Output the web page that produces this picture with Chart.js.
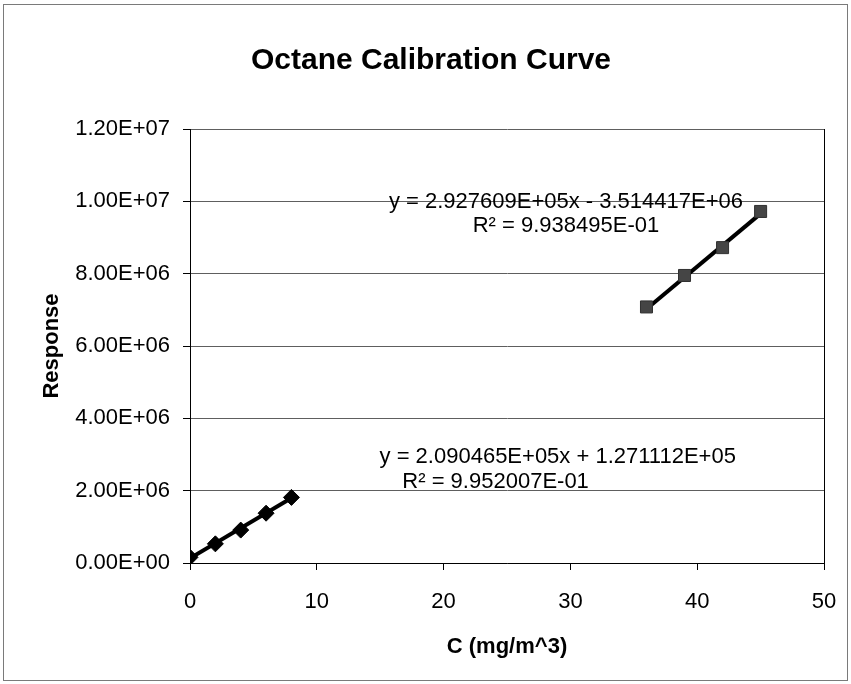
<!DOCTYPE html>
<html>
<head>
<meta charset="utf-8">
<title>Octane Calibration Curve</title>
<script src="https://cdn.jsdelivr.net/npm/chart.js@4.4.1/dist/chart.umd.min.js"></script>
<style>
    body { margin: 0; background: #fff; }
    #wrap { width: 851px; height: 684px; }
</style>
</head>
<body>
<div id="wrap"><canvas id="calib" width="851" height="684"></canvas></div>
<script>
// concentrations (mg/m^3) and detector response
const lowConc = [0, 2, 4, 6, 8];
const lowResp = [158000, 530000, 910000, 1377000, 1814000];
const highConc = [36, 39, 42, 45];
const highResp = [7080000, 7950000, 8720000, 9720000];

// trendline fits, as printed on the chart
const lowFit = { slope: 2.090465E+05, intercept: 1.271112E+05, r2: '9.952007E-01' };
const highFit = { slope: 2.927609E+05, intercept: -3.514417E+06, r2: '9.938495E-01' };

const xTicks = [0, 10, 20, 30, 40, 50];
const yTicks = [0, 2e6, 4e6, 6e6, 8e6, 1e7, 1.2e7];

const TITLE = 'Octane Calibration Curve';
const FONT = "'Liberation Sans', Arial, Helvetica, sans-serif";

function sci(v) {
    if (v === 0) return '0.00E+00';
    const e = Math.floor(Math.log10(Math.abs(v)) + 1e-9);
    const m = v / Math.pow(10, e);
    return m.toFixed(2) + 'E' + (e < 0 ? '-' : '+') + String(Math.abs(e)).padStart(2, '0');
}

function eqLine(f) {
    const fmt = v => v.toExponential(6).replace('e+', 'E+0').replace('e-', 'E-0');
    const sign = f.intercept < 0 ? ' - ' : ' + ';
    return 'y = ' + fmt(f.slope) + 'x' + sign + fmt(Math.abs(f.intercept));
}

// straight line over the span of the measured points
function trend(f, xs) {
    const x0 = Math.min(...xs), x1 = Math.max(...xs);
    return [{ x: x0, y: f.slope * x0 + f.intercept }, { x: x1, y: f.slope * x1 + f.intercept }];
}

const pts = (xs, ys) => xs.map((x, i) => ({ x: x, y: ys[i] }));

// where each equation block sits, in axis units
const eqLabels = [
    { fit: highFit, x: 29.65, y: 9.98e6, rx: 29.65, ry: 9.33e6 },
    { fit: lowFit, x: 29.0, y: 2.93e6, rx: 24.1, ry: 2.24e6 }
];

const framePlugin = {
    id: 'frame',
    beforeDraw(chart) {
        const c = chart.ctx;
        c.save();
        c.fillStyle = '#fff';
        c.fillRect(0, 0, chart.width, chart.height);
        c.restore();
    },
    afterDraw(chart) {
        const c = chart.ctx;
        c.save();
        c.strokeStyle = '#7a7a7a';
        c.lineWidth = 1;
        c.strokeRect(3.5, 4.5, chart.width - 7, chart.height - 8);
        // chart title
        c.fillStyle = '#000';
        c.font = 'bold 30px ' + FONT;
        c.textAlign = 'center';
        c.textBaseline = 'middle';
        c.fillText(TITLE, 431, 61);
        c.restore();
    }
};

const equationPlugin = {
    id: 'equations',
    afterDatasetsDraw(chart) {
        const c = chart.ctx, xs = chart.scales.x, ys = chart.scales.y;
        c.save();
        c.fillStyle = '#000';
        c.font = '22px ' + FONT;
        c.textAlign = 'center';
        c.textBaseline = 'middle';
        eqLabels.forEach(l => {
            c.fillText(eqLine(l.fit), xs.getPixelForValue(l.x), ys.getPixelForValue(l.y));
            c.fillText('R\u00B2 = ' + l.fit.r2, xs.getPixelForValue(l.rx), ys.getPixelForValue(l.ry));
        });
        c.restore();
    }
};

new Chart(document.getElementById('calib'), {
    type: 'scatter',
    data: {
        datasets: [
            {
                label: 'low',
                data: pts(lowConc, lowResp),
                pointStyle: 'rectRot',
                pointRadius: 8,
                backgroundColor: '#000',
                borderColor: '#000',
                borderWidth: 1,
                order: 1
            },
            {
                label: 'high',
                data: pts(highConc, highResp),
                pointStyle: 'rect',
                pointRadius: 8.5,
                backgroundColor: '#454545',
                borderColor: '#303030',
                borderWidth: 1,
                order: 1
            },
            {
                label: 'low fit',
                data: trend(lowFit, lowConc),
                showLine: true,
                borderColor: '#000',
                borderWidth: 4,
                pointRadius: 0,
                order: 2
            },
            {
                label: 'high fit',
                data: trend(highFit, highConc),
                showLine: true,
                borderColor: '#000',
                borderWidth: 4,
                pointRadius: 0,
                order: 2
            }
        ]
    },
    options: {
        responsive: false,
        animation: false,
        layout: { padding: { left: 0, right: 27, top: 129, bottom: 0 } },
        plugins: {
            legend: { display: false },
            tooltip: { enabled: false },
            title: { display: false }
        },
        scales: {
            x: {
                type: 'linear',
                min: 0,
                max: 50,
                afterBuildTicks: s => { s.ticks = xTicks.map(v => ({ value: v })); },
                afterFit: s => {
                    s.height = 121;
                    // edge labels fit inside the margins already
                    s.paddingLeft = 0;
                    s.paddingRight = 0;
                },
                ticks: {
                    color: '#000',
                    font: { family: FONT, size: 22 },
                    padding: 19,
                    maxRotation: 0,
                    callback: v => String(v)
                },
                grid: {
                    color: c => (c.tick && c.tick.value === 50 ? '#000' : 'rgba(0,0,0,0)'),
                    tickColor: '#000',
                    tickLength: 7
                },
                border: { color: '#000', width: 1 },
                title: {
                    display: true,
                    text: 'C (mg/m^3)',
                    color: '#000',
                    font: { family: FONT, size: 22, weight: 'bold' },
                    padding: { top: 0, bottom: 24 }
                }
            },
            y: {
                type: 'linear',
                min: 0,
                max: 1.2e7,
                afterBuildTicks: s => { s.ticks = yTicks.map(v => ({ value: v })); },
                afterFit: s => { s.width = 190; },
                ticks: {
                    color: '#000',
                    font: { family: FONT, size: 22 },
                    padding: 13,
                    callback: v => sci(v)
                },
                grid: {
                    color: '#5e5e5e',
                    tickColor: '#000',
                    tickLength: 7
                },
                border: { color: '#000', width: 1 },
                title: {
                    display: true,
                    text: 'Response',
                    color: '#000',
                    font: { family: FONT, size: 22, weight: 'bold' },
                    padding: { top: 39, bottom: 0 }
                }
            }
        }
    },
    plugins: [framePlugin, equationPlugin]
});
</script>
</body>
</html>
